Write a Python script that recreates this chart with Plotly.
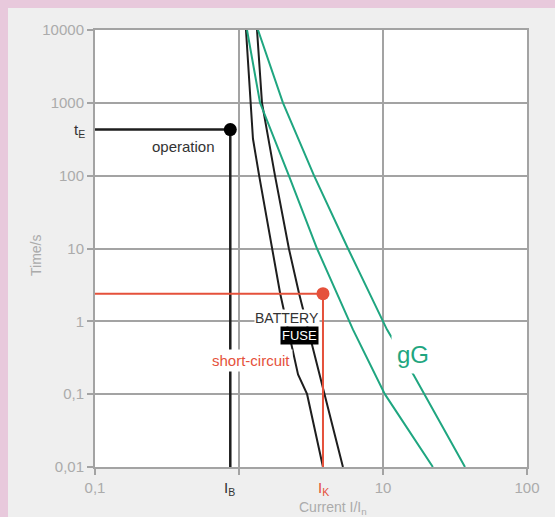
import plotly.graph_objects as go

# ---- data ----
black1_I = [1.118, 1.21, 1.25, 1.38, 1.70, 1.93, 2.57, 2.97, 3.83]
black1_t = [10000, 1000, 321, 100, 10, 2.43, 0.187, 0.1, 0.01]

black2_I = [1.334, 1.444, 1.778, 2.22, 2.61, 3.11, 3.89, 5.27]
black2_t = [10000, 1000, 100, 10, 2.43, 0.61, 0.1, 0.01]

green1_I = [1.137, 1.40, 2.22, 3.48, 6.19, 10.3, 22.2]
green1_t = [10000, 1000, 100, 10, 0.769, 0.1, 0.01]

green2_I = [1.355, 2.02, 3.32, 5.71, 10.66, 16.4, 37.1]
green2_t = [10000, 1000, 100, 10, 0.77, 0.181, 0.01]

I_B, t_E = 0.87, 430
I_K, t_K = 3.83, 2.4
X_MIN, Y_MIN = 0.1, 0.01

x_tickvals = [0.1, 1, 10, 100]
x_ticktext = ["0,1", "", "10", "100"]
y_tickvals = [10000, 1000, 100, 10, 1, 0.1, 0.01]
y_ticktext = ["10000", "1000", "100", "10", "1", "0,1", "0,01"]

# ---- style ----
W, H = 555, 517
L, R, T, B = 95, 28, 30, 50
PW, PH = W - L - R, H - T - B
BLACK = "#1e1e1e"
GREEN = "#1fa680"
RED = "#e5513b"
GRID = "#a3a3a3"
TICKC = "#ababab"
PINK = "#e8c9dc"
FONT = "Liberation Sans, Arial, sans-serif"


def px_x(p):
    return (p - L) / PW


def px_y(p):
    return (H - B - p) / PH


fig = go.Figure()

for xs, ys, c in [(black1_I, black1_t, BLACK), (black2_I, black2_t, BLACK),
                  (green1_I, green1_t, GREEN), (green2_I, green2_t, GREEN)]:
    fig.add_trace(go.Scatter(x=xs, y=ys, mode="lines",
                             line=dict(color=c, width=2), hoverinfo="skip"))

# operation point
fig.add_trace(go.Scatter(x=[X_MIN, I_B, I_B], y=[t_E, t_E, Y_MIN], mode="lines",
                         line=dict(color=BLACK, width=2.5), cliponaxis=False))
fig.add_trace(go.Scatter(x=[I_B], y=[t_E], mode="markers",
                         marker=dict(color="#000000", size=13), cliponaxis=False))
# short-circuit point
fig.add_trace(go.Scatter(x=[X_MIN, I_K, I_K], y=[t_K, t_K, Y_MIN], mode="lines",
                         line=dict(color=RED, width=2), cliponaxis=False))
fig.add_trace(go.Scatter(x=[I_K], y=[t_K], mode="markers",
                         marker=dict(color=RED, size=13), cliponaxis=False))

# background: pink border strips around grey panel
shapes = [
    dict(type="rect", xref="paper", yref="paper", x0=px_x(0), x1=px_x(8),
         y0=px_y(H), y1=px_y(0), fillcolor=PINK, line_width=0, layer="below"),
    dict(type="rect", xref="paper", yref="paper", x0=px_x(0), x1=px_x(W),
         y0=px_y(8), y1=px_y(0), fillcolor=PINK, line_width=0, layer="below"),
]


def ann(px, py, text, size, color, xanchor="center", **kw):
    d = dict(x=px_x(px), y=px_y(py), xref="paper", yref="paper", text=text,
             xanchor=xanchor, yanchor="middle", showarrow=False,
             font=dict(size=size, color=color, family=FONT))
    d.update(kw)
    return d


anns = [
    ann(183, 146, "operation", 15, "#333333"),
    ann(251, 360, "short-circuit", 15, RED, bgcolor="white", borderpad=2),
    ann(287, 318, "BATTERY", 14, "#333333", bgcolor="white", borderpad=0),
    ann(299, 335, "FUSE", 13, "white", bgcolor="#000000", borderpad=1),
    ann(413, 354, "gG", 24, GREEN, bgcolor="white", borderpad=5),
    # special axis labels
    ann(87, 130, "t<sub>E</sub>", 15, "#333333", xanchor="right"),
    ann(229, 488, "I<sub>B</sub>", 15, "#333333"),
    ann(323, 488, "I<sub>K</sub>", 15, RED),
    # axis titles
    ann(333, 508, "Current I/I<sub>n</sub>", 14, TICKC),
    ann(36, 256, "Time/s", 14, TICKC, textangle=-90),
]

fig.update_layout(
    width=W, height=H,
    margin=dict(l=L, r=R, t=T, b=B),
    paper_bgcolor="#efefef",
    plot_bgcolor="white",
    showlegend=False,
    shapes=shapes,
    annotations=anns,
    font=dict(family=FONT),
)
fig.update_xaxes(type="log", range=[-1, 2], tickvals=x_tickvals, ticktext=x_ticktext,
                 showgrid=True, gridcolor=GRID, gridwidth=2,
                 showline=True, mirror=True, linecolor=GRID, linewidth=2,
                 ticks="outside", ticklen=6, tickwidth=2, tickcolor=GRID,
                 tickfont=dict(size=15, color=TICKC, family=FONT), zeroline=False)
fig.update_yaxes(type="log", range=[-2, 4], tickvals=y_tickvals, ticktext=y_ticktext,
                 showgrid=True, gridcolor=GRID, gridwidth=2,
                 showline=True, mirror=True, linecolor=GRID, linewidth=2,
                 ticks="outside", ticklen=6, tickwidth=2, tickcolor=GRID,
                 tickfont=dict(size=15, color=TICKC, family=FONT), zeroline=False)

fig.write_html(
    "out.html",
    config={"displayModeBar": False},
    post_script="document.body.style.margin='0';document.body.style.background='%s';"
                "document.body.style.overflow='hidden';" % PINK,
)
